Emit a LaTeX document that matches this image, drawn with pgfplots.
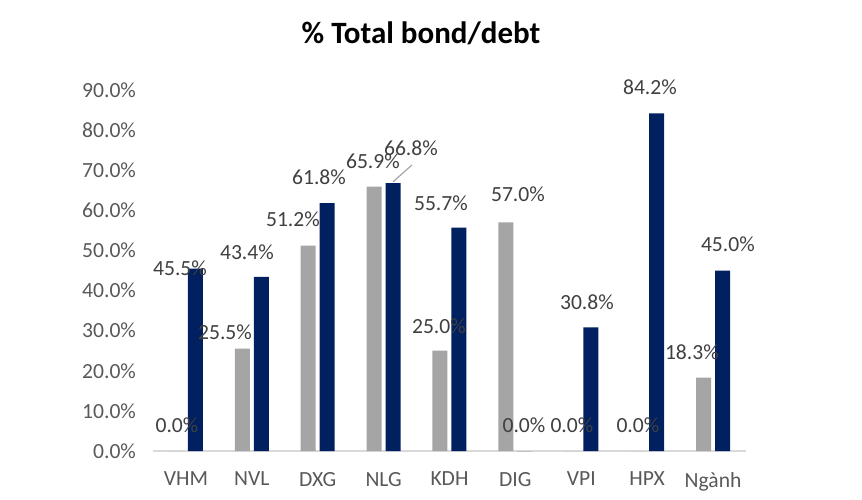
\documentclass[border=0pt]{standalone}
\usepackage{pgfplots}
\pgfplotsset{compat=1.18}
\usepackage{fontspec}
\setmainfont{Carlito}
\definecolor{barGray}{HTML}{A5A5A5}
\definecolor{barNavy}{HTML}{002060}
\definecolor{tickGray}{HTML}{595959}
\definecolor{lblGray}{HTML}{404040}
\definecolor{lineGray}{HTML}{D9D9D9}
\begin{document}
\begin{tikzpicture}
\path[use as bounding box] (0,0) rectangle (431pt,249.5pt);
\node[font=\bfseries\fontsize{15.5}{18}\selectfont] at (210.5pt,233pt) {\% Total bond/debt};
\begin{axis}[
  at={(76.5pt,24pt)}, anchor=south west,
  scale only axis, width=296.5pt, height=180.5pt,
  xmin=-0.5, xmax=8.5, ymin=0, ymax=90,
  clip=false,
  axis line style={draw=none},
  major tick length=0pt,
  xtick={0,...,8},
  xticklabels={VHM,NVL,DXG,NLG,KDH,DIG,VPI,HPX,Ngành},
  ytick={0,10,...,90},
  yticklabel={\pgfmathprintnumber[fixed,fixed zerofill,precision=1]{\tick}\%},
  /pgf/number format/assume math mode=true,
  tick label style={font=\fontsize{10.8}{13}\selectfont, text=tickGray},
  yticklabel shift=5pt,
  xticklabel shift=7pt,
]
\draw[lineGray, line width=0.8pt] (axis cs:-0.5,0) -- (axis cs:8.5,0);
\addplot[ybar, bar width=7.5pt, bar shift=-4.75pt, fill=barGray, draw=none] table {
x y
0 0.0
1 25.5
2 51.2
3 65.9
4 25.0
5 57.0
6 0.0
7 0.0
8 18.3
};
\addplot[ybar, bar width=7.5pt, bar shift=4.75pt, fill=barNavy, draw=none] table {
x y
0 45.5
1 43.4
2 61.8
3 66.8
4 55.7
5 0.0
6 30.8
7 84.2
8 45.0
};
\addplot[only marks, mark=none, nodes near coords, point meta=explicit symbolic,
  every node near coord/.append style={anchor=center, inner sep=0pt, font=\fontsize{10.8}{13}\selectfont, text=lblGray}]
  table[meta=label] {
x y label
-0.136 6.5 0.0\%
-0.090 45.6 45.5\%
0.593 29.7 25.5\%
0.926 49.6 43.4\%
1.624 57.9 51.2\%
2.019 68.3 61.8\%
2.838 72.3 65.9\%
3.415 75.6 66.8\%
3.840 31.2 25.0\%
3.870 61.8 55.7\%
5.039 64.1 57.0\%
5.130 6.5 0.0\%
5.858 6.5 0.0\%
6.086 37.2 30.8\%
6.860 6.5 0.0\%
7.042 90.8 84.2\%
7.679 24.7 18.3\%
8.225 51.6 45.0\%
};
\draw[gray!70, line width=0.6pt] (axis cs:3.142,67.1) -- (axis cs:3.43,71.3);
\end{axis}
\end{tikzpicture}
\end{document}
